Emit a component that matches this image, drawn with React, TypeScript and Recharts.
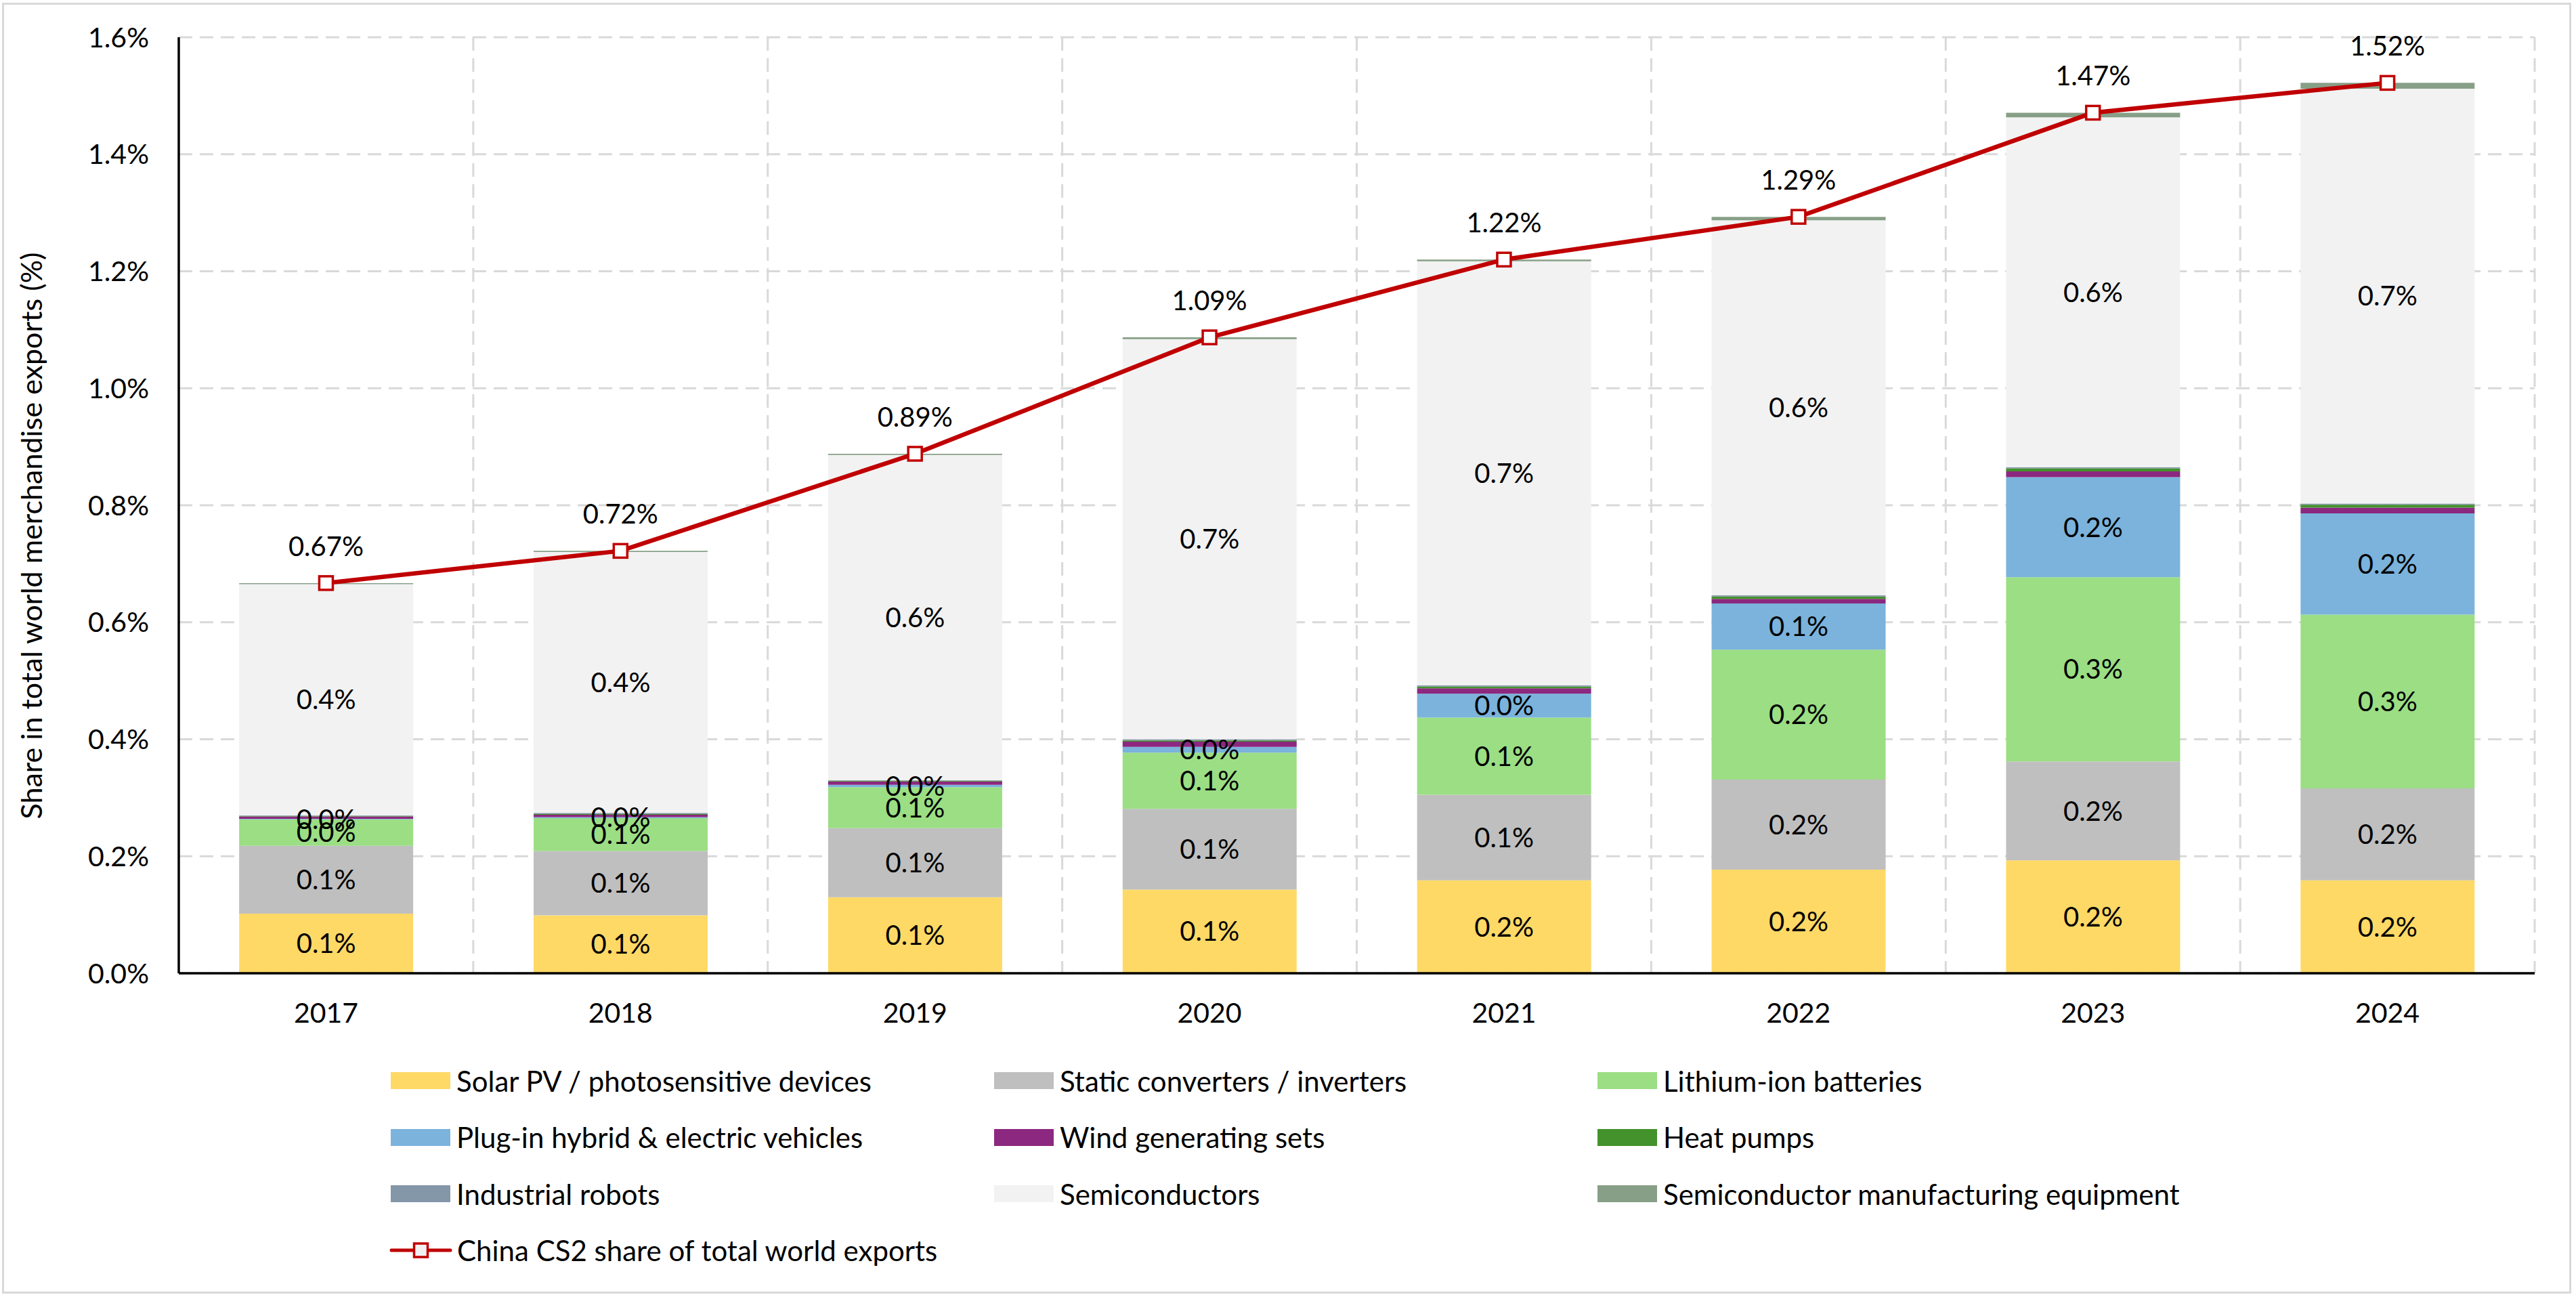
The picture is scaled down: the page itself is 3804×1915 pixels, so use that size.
import React from 'react';
import { ComposedChart, Bar, Line, XAxis, YAxis, CartesianGrid, Legend, LabelList } from 'recharts';

const YEARS = ['2017', '2018', '2019', '2020', '2021', '2022', '2023', '2024'];

const SOLAR = [0.102, 0.099, 0.130, 0.143, 0.159, 0.177, 0.193, 0.159];
const STATIC = [0.116, 0.110, 0.118, 0.138, 0.146, 0.154, 0.169, 0.157];
const LITHIUM = [0.045, 0.056, 0.070, 0.096, 0.132, 0.222, 0.315, 0.297];
const EV = [0.001, 0.002, 0.004, 0.010, 0.041, 0.079, 0.171, 0.173];
const WIND = [0.004, 0.004, 0.006, 0.009, 0.009, 0.008, 0.010, 0.010];
const HEAT_PUMPS = [0.001, 0.001, 0.001, 0.002, 0.003, 0.004, 0.005, 0.005];
const ROBOTS = [0.001, 0.002, 0.001, 0.002, 0.002, 0.002, 0.002, 0.002];
const SEMIS = [0.395, 0.446, 0.556, 0.684, 0.725, 0.641, 0.598, 0.709];
const SME = [0.002, 0.002, 0.002, 0.003, 0.003, 0.006, 0.008, 0.010];
const CHINA_SHARE = [0.667, 0.722, 0.888, 1.087, 1.220, 1.293, 1.471, 1.522];

const Y_TICKS = [0, 0.2, 0.4, 0.6, 0.8, 1.0, 1.2, 1.4, 1.6];

const SERIES = [
  { key: 'solar', name: 'Solar PV / photosensitive devices', color: '#FFD966', values: SOLAR, labelled: true },
  { key: 'static', name: 'Static converters / inverters', color: '#BFBFBF', values: STATIC, labelled: true },
  { key: 'lithium', name: 'Lithium-ion batteries', color: '#9BDE84', values: LITHIUM, labelled: true },
  { key: 'ev', name: 'Plug-in hybrid & electric vehicles', color: '#7BB3DC', values: EV, labelled: true },
  { key: 'wind', name: 'Wind generating sets', color: '#8C287F', values: WIND, labelled: false },
  { key: 'heat', name: 'Heat pumps', color: '#43922B', values: HEAT_PUMPS, labelled: false },
  { key: 'robots', name: 'Industrial robots', color: '#8497A9', values: ROBOTS, labelled: false },
  { key: 'semis', name: 'Semiconductors', color: '#F2F2F2', values: SEMIS, labelled: true },
  { key: 'sme', name: 'Semiconductor manufacturing equipment', color: '#889F87', values: SME, labelled: false },
];

const LINE_NAME = 'China CS2 share of total world exports';
const LINE_COLOR = '#C00000';
const FONT = "Lato, 'Open Sans', sans-serif";

const data = YEARS.map((year, i) => {
  const row: Record<string, string | number> = { year, share: CHINA_SHARE[i] };
  SERIES.forEach((s) => { row[s.key] = s.values[i]; });
  return row;
});

const SquareDot = (props: any) => {
  const { cx, cy, index } = props;
  if (cx == null || cy == null) return null;
  return <rect key={`dot-${index}`} x={cx - 10} y={cy - 10} width={20} height={20} fill="#FFFFFF" stroke={LINE_COLOR} strokeWidth={3.5} />;
};

const YTitle = (props: any) => {
  const { x, y, height } = props.viewBox;
  const cx = x + 45;
  const cy = y + height / 2 + 45;
  return (
    <text x={cx} y={cy} transform={`rotate(-90, ${cx}, ${cy})`} textAnchor="middle" dominantBaseline="central"
      fontSize={43} fontFamily={FONT} fill="#000">
      Share in total world merchandise exports (%)
    </text>
  );
};

const LegendContent = () => (
  <div style={{ position: 'relative', width: 3804, height: 340, fontFamily: FONT, fontSize: 42, color: '#000' }}>
    {SERIES.map((s, i) => (
      <div key={s.key} style={{ position: 'absolute', left: 577 + (i % 3) * 891, top: Math.floor(i / 3) * 83.5, height: 83.5, display: 'flex', alignItems: 'center', whiteSpace: 'nowrap' }}>
        <span style={{ display: 'inline-block', width: 88, height: 25, background: s.color, marginRight: 9 }} />
        <span>{s.name}</span>
      </div>
    ))}
    <div style={{ position: 'absolute', left: 575, top: 3 * 83.5, height: 83.5, display: 'flex', alignItems: 'center', whiteSpace: 'nowrap' }}>
      <svg width={93} height={30} style={{ marginRight: 7 }}>
        <line x1={3} y1={15} x2={90} y2={15} stroke={LINE_COLOR} strokeWidth={5} strokeLinecap="round" />
        <rect x={36.5} y={5} width={20} height={20} fill="#F2F2F2" stroke={LINE_COLOR} strokeWidth={3.5} />
      </svg>
      <span>{LINE_NAME}</span>
    </div>
  </div>
);

export default function App() {
  return (
    <div style={{ position: 'relative', width: 3804, height: 1915, background: '#fff', fontFamily: FONT }}>
      <style>{'body{margin:0;}'}</style>
      <div style={{ position: 'absolute', left: 3, top: 4, width: 3794, height: 1906, border: '3px solid #D9D9D9', boxSizing: 'border-box', pointerEvents: 'none' }} />
      <ComposedChart width={3804} height={1915} data={data} margin={{ top: 55, right: 61, left: 0, bottom: 378 }} barCategoryGap="20.5%">
        <CartesianGrid
          stroke="#D9D9D9"
          strokeWidth={3}
          strokeDasharray="20 11"
          verticalCoordinatesGenerator={({ offset }: any) => YEARS.map((_, i) => offset.left + ((i + 1) * offset.width) / YEARS.length)}
        />
        <XAxis dataKey="year" height={100} tickLine={false} tickSize={0} tickMargin={44}
          axisLine={{ stroke: '#000', strokeWidth: 3.5 }}
          tick={{ fontSize: 41, fill: '#000', fontFamily: FONT }} />
        <YAxis width={264} domain={[0, 1.6]} ticks={Y_TICKS} interval={0} tickLine={false} tickSize={0} tickMargin={44}
          axisLine={{ stroke: '#000', strokeWidth: 3.5 }}
          tickFormatter={(v: number) => `${v.toFixed(1)}%`}
          tick={{ fontSize: 41, fill: '#000', fontFamily: FONT }}
          label={{ content: YTitle }} />
        {SERIES.map((s) => (
          <Bar key={s.key} dataKey={s.key} name={s.name} stackId="cs2" fill={s.color} isAnimationActive={false}>
            {s.labelled && (
              <LabelList dataKey={s.key} position="center" fill="#000" fontSize={40} fontFamily={FONT}
                formatter={(v: any) => `${Number(v).toFixed(1)}%`} />
            )}
          </Bar>
        ))}
        <Line dataKey="share" name={LINE_NAME} stroke={LINE_COLOR} strokeWidth={6.5} dot={SquareDot} activeDot={false} isAnimationActive={false}>
          <LabelList dataKey="share" position="top" offset={40} fill="#000" fontSize={40} fontFamily={FONT}
            formatter={(v: any) => `${Number(v).toFixed(2)}%`} />
        </Line>
        <Legend layout="horizontal" verticalAlign="middle" align="center" content={LegendContent}
          wrapperStyle={{ left: 0, top: 1554, width: 3804, height: 340 }} />
      </ComposedChart>
    </div>
  );
}
